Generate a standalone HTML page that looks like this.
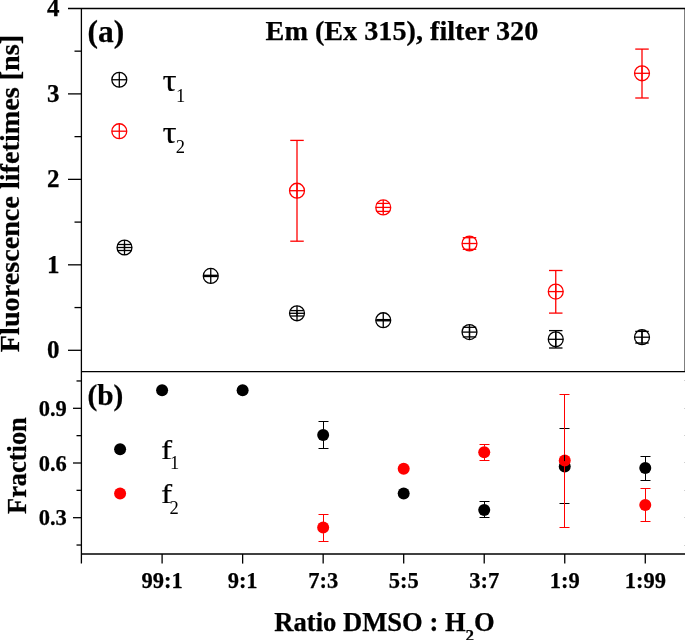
<!DOCTYPE html>
<html><head><meta charset="utf-8"><title>Fluorescence lifetimes</title>
<style>
html,body{margin:0;padding:0;background:#fff;}
svg{display:block;}
text{font-family:"Liberation Serif",serif;fill:#000;}
text.b{stroke:#000;stroke-width:0.25px;}
</style></head><body>
<svg width="685" height="640" viewBox="0 0 685 640">
<rect width="685" height="640" fill="#fff"/>
<line x1="81.40" y1="8.50" x2="81.40" y2="563.60" stroke="#000" stroke-width="1.3"/>
<line x1="685.15" y1="8.50" x2="685.15" y2="371.65" stroke="#000" stroke-width="1.3"/>
<line x1="68.00" y1="8.50" x2="685.50" y2="8.50" stroke="#000" stroke-width="1.3"/>
<line x1="81.40" y1="371.65" x2="685.50" y2="371.65" stroke="#000" stroke-width="1.3"/>
<line x1="81.40" y1="554.00" x2="685.50" y2="554.00" stroke="#000" stroke-width="1.3"/>
<line x1="68.00" y1="350.30" x2="81.40" y2="350.30" stroke="#000" stroke-width="1.3"/>
<line x1="68.00" y1="264.83" x2="81.40" y2="264.83" stroke="#000" stroke-width="1.3"/>
<line x1="68.00" y1="179.36" x2="81.40" y2="179.36" stroke="#000" stroke-width="1.3"/>
<line x1="68.00" y1="93.89" x2="81.40" y2="93.89" stroke="#000" stroke-width="1.3"/>
<line x1="74.50" y1="307.56" x2="81.40" y2="307.56" stroke="#000" stroke-width="1.3"/>
<line x1="74.50" y1="222.10" x2="81.40" y2="222.10" stroke="#000" stroke-width="1.3"/>
<line x1="74.50" y1="136.62" x2="81.40" y2="136.62" stroke="#000" stroke-width="1.3"/>
<line x1="74.50" y1="51.16" x2="81.40" y2="51.16" stroke="#000" stroke-width="1.3"/>
<line x1="73.00" y1="517.69" x2="81.40" y2="517.69" stroke="#000" stroke-width="1.3"/>
<line x1="73.00" y1="463.00" x2="81.40" y2="463.00" stroke="#000" stroke-width="1.3"/>
<line x1="73.00" y1="408.31" x2="81.40" y2="408.31" stroke="#000" stroke-width="1.3"/>
<line x1="76.50" y1="545.03" x2="81.40" y2="545.03" stroke="#000" stroke-width="1.3"/>
<line x1="76.50" y1="490.34" x2="81.40" y2="490.34" stroke="#000" stroke-width="1.3"/>
<line x1="76.50" y1="435.65" x2="81.40" y2="435.65" stroke="#000" stroke-width="1.3"/>
<line x1="76.50" y1="380.96" x2="81.40" y2="380.96" stroke="#000" stroke-width="1.3"/>
<rect x="684" y="545" width="1" height="1" fill="#cfcfcf"/>
<rect x="684" y="517" width="1" height="1" fill="#cfcfcf"/>
<rect x="684" y="490" width="1" height="1" fill="#cfcfcf"/>
<rect x="684" y="462" width="1" height="1" fill="#cfcfcf"/>
<rect x="684" y="435" width="1" height="1" fill="#cfcfcf"/>
<rect x="684" y="408" width="1" height="1" fill="#cfcfcf"/>
<rect x="684" y="380" width="1" height="1" fill="#cfcfcf"/>
<line x1="162.10" y1="554.00" x2="162.10" y2="563.60" stroke="#000" stroke-width="1.3"/>
<line x1="242.63" y1="554.00" x2="242.63" y2="563.60" stroke="#000" stroke-width="1.3"/>
<line x1="323.16" y1="554.00" x2="323.16" y2="563.60" stroke="#000" stroke-width="1.3"/>
<line x1="403.69" y1="554.00" x2="403.69" y2="563.60" stroke="#000" stroke-width="1.3"/>
<line x1="484.22" y1="554.00" x2="484.22" y2="563.60" stroke="#000" stroke-width="1.3"/>
<line x1="564.75" y1="554.00" x2="564.75" y2="563.60" stroke="#000" stroke-width="1.3"/>
<line x1="645.28" y1="554.00" x2="645.28" y2="563.60" stroke="#000" stroke-width="1.3"/>
<line x1="124.50" y1="244.50" x2="124.50" y2="250.50" stroke="#000000" stroke-width="1.3"/>
<line x1="117.75" y1="244.50" x2="131.25" y2="244.50" stroke="#000000" stroke-width="1.3"/>
<line x1="117.75" y1="250.50" x2="131.25" y2="250.50" stroke="#000000" stroke-width="1.3"/>
<circle cx="124.50" cy="247.50" r="7.45" fill="none" stroke="#000000" stroke-width="1.3"/>
<line x1="117.05" y1="247.50" x2="131.95" y2="247.50" stroke="#000000" stroke-width="1.3"/>
<line x1="124.50" y1="240.05" x2="124.50" y2="254.95" stroke="#000000" stroke-width="1.3"/>
<line x1="210.75" y1="275.30" x2="210.75" y2="276.50" stroke="#000000" stroke-width="1.3"/>
<line x1="204.00" y1="275.30" x2="217.50" y2="275.30" stroke="#000000" stroke-width="1.3"/>
<line x1="204.00" y1="276.50" x2="217.50" y2="276.50" stroke="#000000" stroke-width="1.3"/>
<circle cx="210.75" cy="275.90" r="7.45" fill="none" stroke="#000000" stroke-width="1.3"/>
<line x1="203.30" y1="275.90" x2="218.20" y2="275.90" stroke="#000000" stroke-width="1.3"/>
<line x1="210.75" y1="268.45" x2="210.75" y2="283.35" stroke="#000000" stroke-width="1.3"/>
<line x1="297.00" y1="310.60" x2="297.00" y2="316.00" stroke="#000000" stroke-width="1.3"/>
<line x1="290.25" y1="310.60" x2="303.75" y2="310.60" stroke="#000000" stroke-width="1.3"/>
<line x1="290.25" y1="316.00" x2="303.75" y2="316.00" stroke="#000000" stroke-width="1.3"/>
<circle cx="297.00" cy="313.30" r="7.45" fill="none" stroke="#000000" stroke-width="1.3"/>
<line x1="289.55" y1="313.30" x2="304.45" y2="313.30" stroke="#000000" stroke-width="1.3"/>
<line x1="297.00" y1="305.85" x2="297.00" y2="320.75" stroke="#000000" stroke-width="1.3"/>
<line x1="383.25" y1="319.60" x2="383.25" y2="320.80" stroke="#000000" stroke-width="1.3"/>
<line x1="376.50" y1="319.60" x2="390.00" y2="319.60" stroke="#000000" stroke-width="1.3"/>
<line x1="376.50" y1="320.80" x2="390.00" y2="320.80" stroke="#000000" stroke-width="1.3"/>
<circle cx="383.25" cy="320.20" r="7.45" fill="none" stroke="#000000" stroke-width="1.3"/>
<line x1="375.80" y1="320.20" x2="390.70" y2="320.20" stroke="#000000" stroke-width="1.3"/>
<line x1="383.25" y1="312.75" x2="383.25" y2="327.65" stroke="#000000" stroke-width="1.3"/>
<line x1="469.50" y1="327.30" x2="469.50" y2="336.90" stroke="#000000" stroke-width="1.3"/>
<line x1="462.75" y1="327.30" x2="476.25" y2="327.30" stroke="#000000" stroke-width="1.3"/>
<line x1="462.75" y1="336.90" x2="476.25" y2="336.90" stroke="#000000" stroke-width="1.3"/>
<circle cx="469.50" cy="332.10" r="7.45" fill="none" stroke="#000000" stroke-width="1.3"/>
<line x1="462.05" y1="332.10" x2="476.95" y2="332.10" stroke="#000000" stroke-width="1.3"/>
<line x1="469.50" y1="324.65" x2="469.50" y2="339.55" stroke="#000000" stroke-width="1.3"/>
<line x1="555.75" y1="330.60" x2="555.75" y2="348.00" stroke="#000000" stroke-width="1.3"/>
<line x1="549.00" y1="330.60" x2="562.50" y2="330.60" stroke="#000000" stroke-width="1.3"/>
<line x1="549.00" y1="348.00" x2="562.50" y2="348.00" stroke="#000000" stroke-width="1.3"/>
<circle cx="555.75" cy="339.30" r="7.45" fill="none" stroke="#000000" stroke-width="1.3"/>
<line x1="548.30" y1="339.30" x2="563.20" y2="339.30" stroke="#000000" stroke-width="1.3"/>
<line x1="555.75" y1="331.85" x2="555.75" y2="346.75" stroke="#000000" stroke-width="1.3"/>
<line x1="642.00" y1="331.40" x2="642.00" y2="343.00" stroke="#000000" stroke-width="1.3"/>
<line x1="635.25" y1="331.40" x2="648.75" y2="331.40" stroke="#000000" stroke-width="1.3"/>
<line x1="635.25" y1="343.00" x2="648.75" y2="343.00" stroke="#000000" stroke-width="1.3"/>
<circle cx="642.00" cy="337.20" r="7.45" fill="none" stroke="#000000" stroke-width="1.3"/>
<line x1="634.55" y1="337.20" x2="649.45" y2="337.20" stroke="#000000" stroke-width="1.3"/>
<line x1="642.00" y1="329.75" x2="642.00" y2="344.65" stroke="#000000" stroke-width="1.3"/>
<line x1="297.00" y1="140.40" x2="297.00" y2="241.20" stroke="#ff0000" stroke-width="1.3"/>
<line x1="290.25" y1="140.40" x2="303.75" y2="140.40" stroke="#ff0000" stroke-width="1.3"/>
<line x1="290.25" y1="241.20" x2="303.75" y2="241.20" stroke="#ff0000" stroke-width="1.3"/>
<circle cx="297.00" cy="190.70" r="7.45" fill="none" stroke="#ff0000" stroke-width="1.3"/>
<line x1="289.55" y1="190.70" x2="304.45" y2="190.70" stroke="#ff0000" stroke-width="1.3"/>
<line x1="297.00" y1="183.25" x2="297.00" y2="198.15" stroke="#ff0000" stroke-width="1.3"/>
<line x1="383.25" y1="203.40" x2="383.25" y2="211.40" stroke="#ff0000" stroke-width="1.3"/>
<line x1="376.50" y1="203.40" x2="390.00" y2="203.40" stroke="#ff0000" stroke-width="1.3"/>
<line x1="376.50" y1="211.40" x2="390.00" y2="211.40" stroke="#ff0000" stroke-width="1.3"/>
<circle cx="383.25" cy="207.40" r="7.45" fill="none" stroke="#ff0000" stroke-width="1.3"/>
<line x1="375.80" y1="207.40" x2="390.70" y2="207.40" stroke="#ff0000" stroke-width="1.3"/>
<line x1="383.25" y1="199.95" x2="383.25" y2="214.85" stroke="#ff0000" stroke-width="1.3"/>
<line x1="469.50" y1="237.70" x2="469.50" y2="249.30" stroke="#ff0000" stroke-width="1.3"/>
<line x1="462.75" y1="237.70" x2="476.25" y2="237.70" stroke="#ff0000" stroke-width="1.3"/>
<line x1="462.75" y1="249.30" x2="476.25" y2="249.30" stroke="#ff0000" stroke-width="1.3"/>
<circle cx="469.50" cy="243.50" r="7.45" fill="none" stroke="#ff0000" stroke-width="1.3"/>
<line x1="462.05" y1="243.50" x2="476.95" y2="243.50" stroke="#ff0000" stroke-width="1.3"/>
<line x1="469.50" y1="236.05" x2="469.50" y2="250.95" stroke="#ff0000" stroke-width="1.3"/>
<line x1="555.75" y1="270.50" x2="555.75" y2="313.10" stroke="#ff0000" stroke-width="1.3"/>
<line x1="549.00" y1="270.50" x2="562.50" y2="270.50" stroke="#ff0000" stroke-width="1.3"/>
<line x1="549.00" y1="313.10" x2="562.50" y2="313.10" stroke="#ff0000" stroke-width="1.3"/>
<circle cx="555.75" cy="291.60" r="7.45" fill="none" stroke="#ff0000" stroke-width="1.3"/>
<line x1="548.30" y1="291.60" x2="563.20" y2="291.60" stroke="#ff0000" stroke-width="1.3"/>
<line x1="555.75" y1="284.15" x2="555.75" y2="299.05" stroke="#ff0000" stroke-width="1.3"/>
<line x1="642.00" y1="49.10" x2="642.00" y2="98.00" stroke="#ff0000" stroke-width="1.3"/>
<line x1="635.25" y1="49.10" x2="648.75" y2="49.10" stroke="#ff0000" stroke-width="1.3"/>
<line x1="635.25" y1="98.00" x2="648.75" y2="98.00" stroke="#ff0000" stroke-width="1.3"/>
<circle cx="642.00" cy="73.30" r="7.45" fill="none" stroke="#ff0000" stroke-width="1.3"/>
<line x1="634.55" y1="73.30" x2="649.45" y2="73.30" stroke="#ff0000" stroke-width="1.3"/>
<line x1="642.00" y1="65.85" x2="642.00" y2="80.75" stroke="#ff0000" stroke-width="1.3"/>
<circle cx="119.30" cy="79.75" r="7.45" fill="none" stroke="#000000" stroke-width="1.3"/>
<line x1="111.85" y1="79.75" x2="126.75" y2="79.75" stroke="#000000" stroke-width="1.3"/>
<line x1="119.30" y1="72.30" x2="119.30" y2="87.20" stroke="#000000" stroke-width="1.3"/>
<circle cx="119.30" cy="131.20" r="7.45" fill="none" stroke="#ff0000" stroke-width="1.3"/>
<line x1="111.85" y1="131.20" x2="126.75" y2="131.20" stroke="#ff0000" stroke-width="1.3"/>
<line x1="119.30" y1="123.75" x2="119.30" y2="138.65" stroke="#ff0000" stroke-width="1.3"/>
<circle cx="162.10" cy="390.30" r="6.0" fill="#000000"/>
<circle cx="242.63" cy="390.30" r="6.0" fill="#000000"/>
<circle cx="323.16" cy="434.90" r="6.0" fill="#000000"/>
<circle cx="403.69" cy="493.50" r="6.0" fill="#000000"/>
<circle cx="484.22" cy="510.00" r="6.0" fill="#000000"/>
<circle cx="564.75" cy="466.60" r="6.0" fill="#000000"/>
<circle cx="645.28" cy="468.10" r="6.0" fill="#000000"/>
<circle cx="323.16" cy="527.60" r="6.0" fill="#ff0000"/>
<circle cx="403.69" cy="468.70" r="6.0" fill="#ff0000"/>
<circle cx="484.22" cy="452.20" r="6.0" fill="#ff0000"/>
<circle cx="564.75" cy="460.60" r="6.0" fill="#ff0000"/>
<circle cx="645.28" cy="504.90" r="6.0" fill="#ff0000"/>
<line x1="323.50" y1="421.50" x2="323.50" y2="429.40" stroke="#000000" stroke-width="1.0"/>
<line x1="323.50" y1="440.40" x2="323.50" y2="448.50" stroke="#000000" stroke-width="1.0"/>
<line x1="318.50" y1="421.50" x2="328.50" y2="421.50" stroke="#000000" stroke-width="1.0"/>
<line x1="318.50" y1="448.50" x2="328.50" y2="448.50" stroke="#000000" stroke-width="1.0"/>
<line x1="484.50" y1="501.50" x2="484.50" y2="504.50" stroke="#000000" stroke-width="1.0"/>
<line x1="484.50" y1="515.50" x2="484.50" y2="517.50" stroke="#000000" stroke-width="1.0"/>
<line x1="479.50" y1="501.50" x2="489.50" y2="501.50" stroke="#000000" stroke-width="1.0"/>
<line x1="479.50" y1="517.50" x2="489.50" y2="517.50" stroke="#000000" stroke-width="1.0"/>
<line x1="564.50" y1="428.50" x2="564.50" y2="461.10" stroke="#000000" stroke-width="1.0"/>
<line x1="564.50" y1="472.10" x2="564.50" y2="503.50" stroke="#000000" stroke-width="1.0"/>
<line x1="559.50" y1="428.50" x2="569.50" y2="428.50" stroke="#000000" stroke-width="1.0"/>
<line x1="559.50" y1="503.50" x2="569.50" y2="503.50" stroke="#000000" stroke-width="1.0"/>
<line x1="645.50" y1="456.50" x2="645.50" y2="462.60" stroke="#000000" stroke-width="1.0"/>
<line x1="645.50" y1="473.60" x2="645.50" y2="480.50" stroke="#000000" stroke-width="1.0"/>
<line x1="640.50" y1="456.50" x2="650.50" y2="456.50" stroke="#000000" stroke-width="1.0"/>
<line x1="640.50" y1="480.50" x2="650.50" y2="480.50" stroke="#000000" stroke-width="1.0"/>
<line x1="323.50" y1="514.50" x2="323.50" y2="522.10" stroke="#ff0000" stroke-width="1.0"/>
<line x1="323.50" y1="533.10" x2="323.50" y2="541.50" stroke="#ff0000" stroke-width="1.0"/>
<line x1="318.50" y1="514.50" x2="328.50" y2="514.50" stroke="#ff0000" stroke-width="1.0"/>
<line x1="318.50" y1="541.50" x2="328.50" y2="541.50" stroke="#ff0000" stroke-width="1.0"/>
<line x1="484.50" y1="444.50" x2="484.50" y2="446.70" stroke="#ff0000" stroke-width="1.0"/>
<line x1="484.50" y1="457.70" x2="484.50" y2="460.50" stroke="#ff0000" stroke-width="1.0"/>
<line x1="479.50" y1="444.50" x2="489.50" y2="444.50" stroke="#ff0000" stroke-width="1.0"/>
<line x1="479.50" y1="460.50" x2="489.50" y2="460.50" stroke="#ff0000" stroke-width="1.0"/>
<line x1="564.50" y1="394.50" x2="564.50" y2="455.10" stroke="#ff0000" stroke-width="1.0"/>
<line x1="564.50" y1="466.10" x2="564.50" y2="527.50" stroke="#ff0000" stroke-width="1.0"/>
<line x1="559.50" y1="394.50" x2="569.50" y2="394.50" stroke="#ff0000" stroke-width="1.0"/>
<line x1="559.50" y1="527.50" x2="569.50" y2="527.50" stroke="#ff0000" stroke-width="1.0"/>
<line x1="645.50" y1="488.50" x2="645.50" y2="499.40" stroke="#ff0000" stroke-width="1.0"/>
<line x1="645.50" y1="510.40" x2="645.50" y2="521.50" stroke="#ff0000" stroke-width="1.0"/>
<line x1="640.50" y1="488.50" x2="650.50" y2="488.50" stroke="#ff0000" stroke-width="1.0"/>
<line x1="640.50" y1="521.50" x2="650.50" y2="521.50" stroke="#ff0000" stroke-width="1.0"/>
<circle cx="120.10" cy="449.20" r="6.0" fill="#000000"/>
<circle cx="120.10" cy="493.40" r="6.0" fill="#ff0000"/>
<text class="b" x="59.6" y="358.2" font-size="25.0" font-weight="bold" text-anchor="end" >0</text>
<text class="b" x="59.6" y="272.73" font-size="25.0" font-weight="bold" text-anchor="end" >1</text>
<text class="b" x="59.6" y="187.26000000000002" font-size="25.0" font-weight="bold" text-anchor="end" >2</text>
<text class="b" x="59.6" y="101.79000000000005" font-size="25.0" font-weight="bold" text-anchor="end" >3</text>
<text class="b" x="59.6" y="16.320000000000014" font-size="25.0" font-weight="bold" text-anchor="end" >4</text>
<text class="b" x="66.8" y="525.2900000000001" font-size="22.5" font-weight="bold" text-anchor="end" >0.3</text>
<text class="b" x="66.8" y="470.6" font-size="22.5" font-weight="bold" text-anchor="end" >0.6</text>
<text class="b" x="66.8" y="415.91" font-size="22.5" font-weight="bold" text-anchor="end" >0.9</text>
<text class="b" x="162.1" y="587.8" font-size="22.5" font-weight="bold" text-anchor="middle" >99:1</text>
<text class="b" x="242.63" y="587.8" font-size="22.5" font-weight="bold" text-anchor="middle" >9:1</text>
<text class="b" x="323.15999999999997" y="587.8" font-size="22.5" font-weight="bold" text-anchor="middle" >7:3</text>
<text class="b" x="403.69" y="587.8" font-size="22.5" font-weight="bold" text-anchor="middle" >5:5</text>
<text class="b" x="484.22" y="587.8" font-size="22.5" font-weight="bold" text-anchor="middle" >3:7</text>
<text class="b" x="564.75" y="587.8" font-size="22.5" font-weight="bold" text-anchor="middle" >1:9</text>
<text class="b" x="645.28" y="587.8" font-size="22.5" font-weight="bold" text-anchor="middle" >1:99</text>
<text class="b" x="87.5" y="41.5" font-size="31.5" font-weight="bold" text-anchor="start" >(a)</text>
<text class="b" x="87.4" y="404.8" font-size="29.3" font-weight="bold" text-anchor="start" >(b)</text>
<text class="b" x="265.6" y="40.3" font-size="28.2" font-weight="bold" text-anchor="start" >Em (Ex 315), filter 320</text>
<text class="b" x="18.7" y="193.5" font-size="28.2" font-weight="bold" text-anchor="middle" transform="rotate(-90 18.7 193.5)">Fluorescence lifetimes [ns]</text>
<text class="b" x="26.3" y="465.6" font-size="26.4" font-weight="bold" text-anchor="middle" transform="rotate(-90 26.3 465.6)">Fraction</text>
<text class="b" x="274.3" y="631" font-size="26.6" font-weight="bold">Ratio DMSO : H<tspan font-size="17" dy="9.6">2</tspan><tspan dy="-9.6">O</tspan></text>
<text transform="translate(162.6 91.4) scale(1.08 1)" font-size="32.5" font-weight="normal" stroke="#000" stroke-width="0.2">τ</text>
<text x="175.9" y="101.7" font-size="18.5" font-weight="normal">1</text>
<text transform="translate(162.6 142.7) scale(1.08 1)" font-size="32.5" font-weight="normal" stroke="#000" stroke-width="0.2">τ</text>
<text x="175.7" y="153.0" font-size="18.5" font-weight="normal">2</text>
<text transform="translate(160.9 459.1) scale(1.22 1)" font-size="27.4" font-weight="normal" stroke="#000" stroke-width="0.15">f</text>
<text x="170.0" y="469.40000000000003" font-size="18.5" font-weight="normal">1</text>
<text transform="translate(160.9 503.2) scale(1.22 1)" font-size="27.4" font-weight="normal" stroke="#000" stroke-width="0.15">f</text>
<text x="169.4" y="513.8" font-size="18.5" font-weight="normal">2</text>
</svg>
</body></html>
